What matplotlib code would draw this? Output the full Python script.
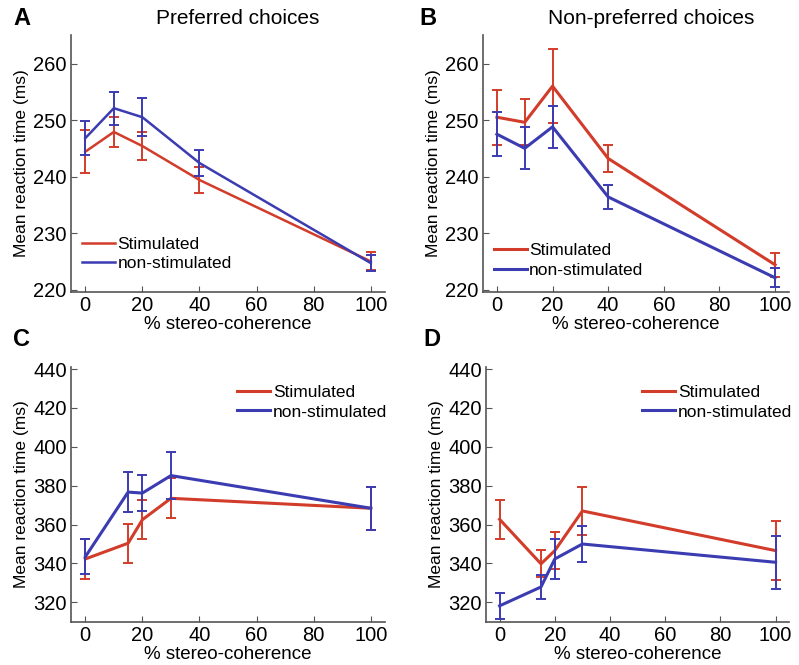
import matplotlib
matplotlib.use("Agg")
import matplotlib.pyplot as plt

plt.rcParams["font.family"] = ["Liberation Sans", "DejaVu Sans"]

# Panel A - preferred choices
xA = [0, 10, 20, 40, 100]
stimA = [244.4, 247.9, 245.4, 239.4, 225.0]
stimA_err = [3.8, 2.6, 2.5, 2.3, 1.6]
nonA = [246.8, 252.1, 250.5, 242.4, 224.7]
nonA_err = [3.0, 2.9, 3.4, 2.3, 1.4]

# Panel B - non-preferred choices
xB = [0, 10, 20, 40, 100]
stimB = [250.5, 249.6, 256.0, 243.2, 224.4]
stimB_err = [4.9, 4.1, 6.5, 2.4, 2.1]
nonB = [247.5, 245.0, 248.8, 236.4, 222.1]
nonB_err = [3.9, 3.7, 3.7, 2.1, 1.7]

# Panel C
xC = [0, 15, 20, 30, 100]
stimC = [342.3, 350.4, 362.5, 373.5, 368.4]
stimC_err = [10.5, 10.0, 10.0, 10.3, 11.0]
nonC = [343.4, 376.7, 376.2, 385.2, 368.4]
nonC_err = [9.0, 10.3, 9.4, 12.2, 11.0]

# Panel D
xD = [0, 15, 20, 30, 100]
stimD = [362.7, 339.8, 346.6, 367.0, 346.6]
stimD_err = [10.0, 7.0, 9.5, 12.4, 15.0]
nonD = [318.2, 327.9, 342.3, 350.0, 340.6]
nonD_err = [6.7, 6.3, 10.5, 9.3, 13.6]

xticks = [0, 20, 40, 60, 80, 100]
red = "#d23c2a"
blue = "#3b3bb2"

fig = plt.figure(figsize=(7.99, 6.65), dpi=100)


def panel(rect, x, s, se, n, ne, ylim, yticks, leg_anchor, lw):
    ax = fig.add_axes(rect)
    ax.errorbar(x, s, yerr=se, color=red, lw=lw, elinewidth=1.4, capsize=3.5,
                capthick=1.4, label="Stimulated", zorder=2)
    ax.errorbar(x, n, yerr=ne, color=blue, lw=lw, elinewidth=1.4, capsize=3.5,
                capthick=1.4, label="non-stimulated", zorder=3)
    ax.set_xlim(-5, 105)
    ax.set_ylim(*ylim)
    ax.set_xticks(xticks)
    ax.set_yticks(yticks)
    ax.spines["top"].set_visible(False)
    ax.spines["right"].set_visible(False)
    for side in ["left", "bottom"]:
        ax.spines[side].set_color("#555555")
        ax.spines[side].set_linewidth(1.2)
    ax.tick_params(direction="in", length=4, labelsize=14.5, color="#555555", pad=3)
    ax.set_xlabel("% stereo-coherence", fontsize=13.5, labelpad=1)
    ax.set_ylabel("Mean reaction time (ms)", fontsize=12.5, labelpad=3)
    h, l = ax.get_legend_handles_labels()
    h = [hh[0] for hh in h]
    ax.legend(h, l, loc="upper left", bbox_to_anchor=leg_anchor, frameon=False,
              fontsize=12.5, handlelength=1.9, handletextpad=0.15, borderpad=0,
              labelspacing=0.25, borderaxespad=0)
    return ax


panel([0.0889, 0.561, 0.393, 0.386], xA, stimA, stimA_err, nonA, nonA_err,
      (219.6, 265), [220, 230, 240, 250, 260], (0.035, 0.215), 1.8)
panel([0.6045, 0.561, 0.383, 0.386], xB, stimB, stimB_err, nonB, nonB_err,
      (219.6, 265), [220, 230, 240, 250, 260], (0.035, 0.19), 2.2)
panel([0.0889, 0.065, 0.393, 0.383], xC, stimC, stimC_err, nonC, nonC_err,
      (310, 441), [320, 340, 360, 380, 400, 420, 440], (0.53, 0.93), 2.2)
panel([0.608, 0.065, 0.38, 0.383], xD, stimD, stimD_err, nonD, nonD_err,
      (310, 441), [320, 340, 360, 380, 400, 420, 440], (0.515, 0.93), 2.2)

fig.text(0.298, 0.972, "Preferred choices", fontsize=15, ha="center", va="center")
fig.text(0.815, 0.972, "Non-preferred choices", fontsize=15, ha="center", va="center")
for lab, px, py in [("A", 0.027, 0.972), ("B", 0.536, 0.972),
                    ("C", 0.027, 0.49), ("D", 0.541, 0.49)]:
    fig.text(px, py, lab, fontsize=17, fontweight="bold", ha="center", va="center")

fig.savefig("out.png", dpi=100)
